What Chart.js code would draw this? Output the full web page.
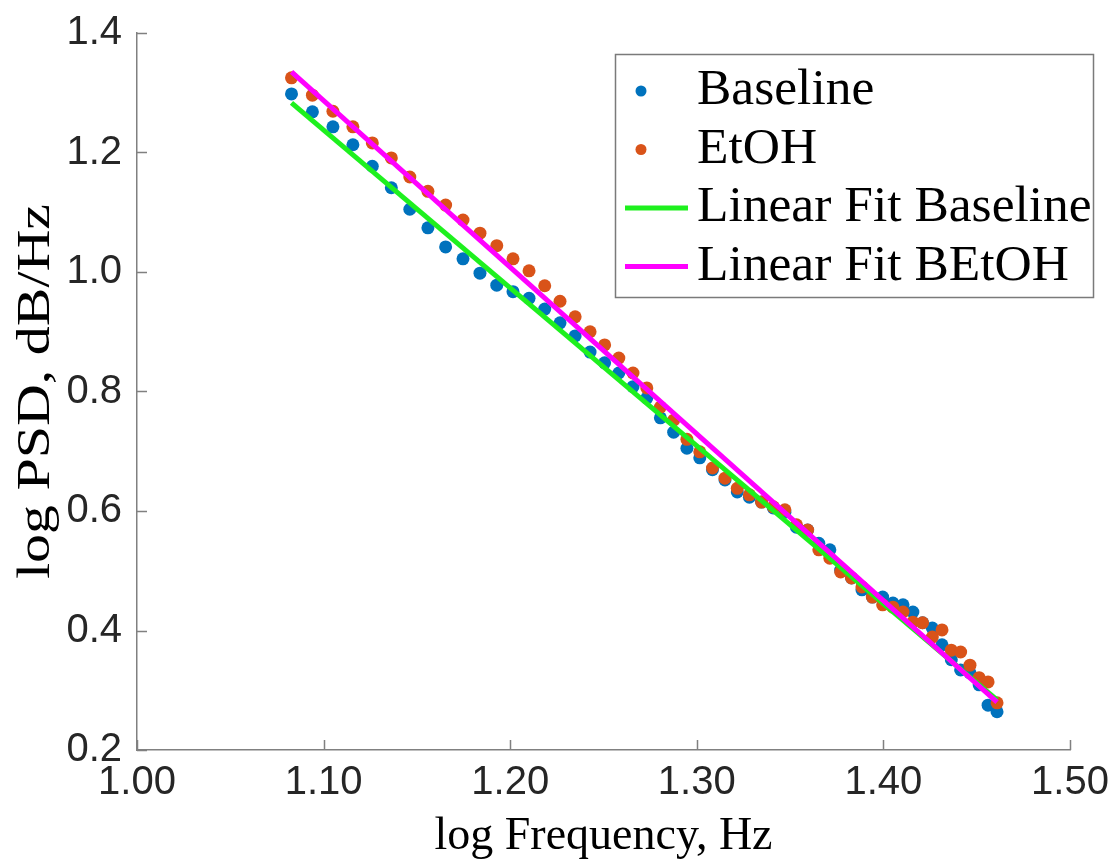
<!DOCTYPE html>
<html>
<head>
<meta charset="utf-8">
<script src="https://cdn.jsdelivr.net/npm/chart.js@4.4.1/dist/chart.umd.min.js"></script>
<style>
    html, body { margin: 0; padding: 0; background: #fff; }
    #wrap { width: 1115px; height: 866px; }
</style>
</head>
<body>
<div id="wrap"><canvas id="psd" width="1115" height="866"></canvas></div>
<script>
const logFreq = [
    1.0828, 1.0940, 1.1050, 1.1157, 1.1261, 1.1363, 1.1462, 1.1559, 1.1654, 1.1747,
    1.1838, 1.1928, 1.2015, 1.2101, 1.2185, 1.2267, 1.2348, 1.2428, 1.2506, 1.2582,
    1.2658, 1.2732, 1.2805, 1.2876, 1.2947, 1.3016, 1.3084, 1.3151, 1.3217, 1.3282,
    1.3347, 1.3410, 1.3472, 1.3534, 1.3594, 1.3654, 1.3713, 1.3771, 1.3829, 1.3885,
    1.3941, 1.3996, 1.4051, 1.4105, 1.4158, 1.4210, 1.4262, 1.4314, 1.4364, 1.4414,
    1.4464, 1.4513, 1.4561, 1.4609
];

const baselinePsd = [
    1.298, 1.268, 1.243, 1.213, 1.177, 1.141, 1.105, 1.074, 1.042, 1.022,
    0.998, 0.978, 0.967, 0.956, 0.938, 0.915, 0.893, 0.866, 0.848, 0.831,
    0.808, 0.789, 0.756, 0.732, 0.705, 0.689, 0.669, 0.652, 0.632, 0.623,
    0.615, 0.605, 0.598, 0.573, 0.568, 0.546, 0.535, 0.501, 0.488, 0.468,
    0.456, 0.456, 0.446, 0.443, 0.431, 0.413, 0.404, 0.376, 0.351, 0.334,
    0.329, 0.309, 0.275, 0.264
];

const etohPsd = [
    1.325, 1.296, 1.269, 1.243, 1.216, 1.191, 1.159, 1.135, 1.112, 1.087,
    1.065, 1.044, 1.022, 1.002, 0.977, 0.951, 0.925, 0.900, 0.878, 0.856,
    0.831, 0.806, 0.774, 0.752, 0.720, 0.699, 0.672, 0.655, 0.638, 0.627,
    0.615, 0.607, 0.602, 0.577, 0.568, 0.535, 0.521, 0.498, 0.488, 0.473,
    0.456, 0.443, 0.439, 0.431, 0.414, 0.413, 0.389, 0.401, 0.367, 0.364,
    0.342, 0.321, 0.314, 0.279
];

// end points of the two linear fits
const fitFreq = [1.0828, 1.4609];
const fitBaseline = [1.283, 0.284];
const fitEtoh = [1.335, 0.280];

const xTickValues = [1.0, 1.1, 1.2, 1.3, 1.4, 1.5];
const xTickLabels = ['1.00', '1.10', '1.20', '1.30', '1.40', '1.50'];
const yTickValues = [0.2, 0.4, 0.6, 0.8, 1.0, 1.2, 1.4];
const yTickLabels = ['0.2', '0.4', '0.6', '0.8', '1.0', '1.2', '1.4'];

const COLORS = {
    baseline: '#0072bd',
    etoh: '#d95319',
    fitBaseline: '#1ef01e',
    fitEtoh: '#ff00ff',
    axis: '#808080',
    text: '#262626'
};

const toPoints = (xs, ys) => xs.map((x, i) => ({ x, y: ys[i] }));

// MATLAB style: ticks point into the axes, legend is a boxed list
const matlabAxes = {
    id: 'matlabAxes',
    afterDatasetsDraw(chart) {
        const { ctx, chartArea, scales } = chart;
        ctx.save();
        ctx.strokeStyle = COLORS.axis;
        ctx.lineWidth = 1.5;
        ctx.beginPath();
        xTickValues.forEach(v => {
            const px = Math.round(scales.x.getPixelForValue(v)) + 0.5;
            ctx.moveTo(px, chartArea.bottom);
            ctx.lineTo(px, chartArea.bottom - 10);
        });
        yTickValues.forEach(v => {
            const py = Math.round(scales.y.getPixelForValue(v)) + 0.5;
            ctx.moveTo(chartArea.left, py);
            ctx.lineTo(chartArea.left + 10, py);
        });
        ctx.stroke();

        // y axis title, stretched along its length like the original export
        ctx.fillStyle = '#000';
        ctx.font = '46px "Liberation Serif", "Times New Roman", serif';
        ctx.textAlign = 'center';
        ctx.textBaseline = 'middle';
        ctx.translate(37, (chartArea.top + chartArea.bottom) / 2);
        ctx.rotate(-Math.PI / 2);
        ctx.scale(1.26, 1);
        ctx.fillText('log PSD, dB/Hz', 0, 0);
        ctx.restore();
    },
    afterDraw(chart) {
        const { ctx, chartArea } = chart;
        const box = { x: chartArea.right - 455, y: chartArea.top + 21, w: 478, h: 243 };
        ctx.save();
        ctx.fillStyle = '#fff';
        ctx.fillRect(box.x, box.y, box.w, box.h);
        ctx.strokeStyle = '#7a7a7a';
        ctx.lineWidth = 1.5;
        ctx.strokeRect(box.x + 0.5, box.y + 0.5, box.w, box.h);

        ctx.font = '50px "Liberation Serif", "Times New Roman", serif';
        ctx.textBaseline = 'middle';
        ctx.textAlign = 'left';
        chart.data.datasets.forEach((ds, i) => {
            const cy = box.y + 37 + i * 58.5;
            if (ds.showLine) {
                ctx.strokeStyle = ds.borderColor;
                ctx.lineWidth = 5;
                ctx.beginPath();
                ctx.moveTo(box.x + 10, cy);
                ctx.lineTo(box.x + 73, cy);
                ctx.stroke();
            } else {
                ctx.fillStyle = ds.backgroundColor;
                ctx.beginPath();
                ctx.arc(box.x + 26, cy, 5.5, 0, Math.PI * 2);
                ctx.fill();
            }
            ctx.fillStyle = '#000';
            ctx.save();
            ctx.translate(box.x + 82, cy);
            ctx.scale(1.03, 1);
            ctx.fillText(ds.label, 0, 0);
            ctx.restore();
        });
        ctx.restore();
    }
};

new Chart(document.getElementById('psd').getContext('2d'), {
    type: 'scatter',
    data: {
        datasets: [
            {
                label: 'Baseline',
                data: toPoints(logFreq, baselinePsd),
                backgroundColor: COLORS.baseline,
                borderWidth: 0,
                pointRadius: 6.5,
                order: 3
            },
            {
                label: 'EtOH',
                data: toPoints(logFreq, etohPsd),
                backgroundColor: COLORS.etoh,
                borderWidth: 0,
                pointRadius: 6.5,
                order: 2
            },
            {
                label: 'Linear Fit Baseline',
                data: toPoints(fitFreq, fitBaseline),
                showLine: true,
                borderColor: COLORS.fitBaseline,
                borderWidth: 5,
                pointRadius: 0,
                order: 1
            },
            {
                label: 'Linear Fit BEtOH',
                data: toPoints(fitFreq, fitEtoh),
                showLine: true,
                borderColor: COLORS.fitEtoh,
                borderWidth: 5,
                pointRadius: 0,
                order: 0
            }
        ]
    },
    options: {
        responsive: false,
        animation: false,
        layout: { padding: { top: 33, right: 45, left: 0, bottom: 0 } },
        plugins: {
            legend: { display: false },
            tooltip: { enabled: false }
        },
        scales: {
            x: {
                type: 'linear',
                min: 1.0,
                max: 1.5,
                afterBuildTicks: s => { s.ticks = xTickValues.map(v => ({ value: v })); },
                afterFit: s => {
                    s.height = 116;
                    s.paddingLeft = 0;
                    s.paddingRight = 0;
                },
                ticks: {
                    callback: (v, i) => xTickLabels[i],
                    font: { family: '"Liberation Sans", Arial, sans-serif', size: 40 },
                    color: COLORS.text,
                    padding: 9,
                    maxRotation: 0,
                    autoSkip: false
                },
                grid: { drawOnChartArea: false, drawTicks: false },
                border: { color: COLORS.axis, width: 1.5 },
                title: {
                    display: true,
                    text: 'log Frequency, Hz',
                    color: '#000',
                    font: { family: '"Liberation Serif", "Times New Roman", serif', size: 46 },
                    padding: { top: 0, bottom: 1 }
                }
            },
            y: {
                type: 'linear',
                min: 0.2,
                max: 1.4,
                afterBuildTicks: s => { s.ticks = yTickValues.map(v => ({ value: v })); },
                afterFit: s => {
                    s.width = 137;
                    s.paddingTop = 0;
                    s.paddingBottom = 0;
                },
                ticks: {
                    callback: (v, i) => yTickLabels[i],
                    font: { family: '"Liberation Sans", Arial, sans-serif', size: 40 },
                    color: COLORS.text,
                    padding: 15,
                    autoSkip: false
                },
                grid: { drawOnChartArea: false, drawTicks: false },
                border: { color: COLORS.axis, width: 1.5 }
            }
        }
    },
    plugins: [matlabAxes]
});
</script>
</body>
</html>
